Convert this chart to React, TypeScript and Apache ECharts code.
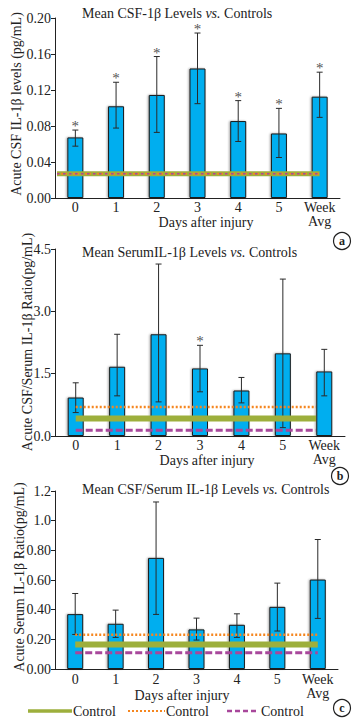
import React, { useEffect, useRef } from 'react';
import * as echarts from 'echarts';

const categories = ['0', '1', '2', '3', '4', '5', 'Week\nAvg'];

// Panel a: Mean CSF IL-1β
const csfMean = [0.0673, 0.1019, 0.1145, 0.1439, 0.0855, 0.0717, 0.1126];
const csfLow = [0.0576, 0.0777, 0.0729, 0.1048, 0.0628, 0.045, 0.0896];
const csfHigh = [0.0755, 0.1286, 0.1572, 0.1833, 0.1082, 0.0996, 0.1398];
const csfStars = [true, true, true, true, true, true, true];

// Panel b: Mean Serum IL-1β
const serumMean = [0.926, 1.667, 2.448, 1.626, 1.095, 1.989, 1.554];
const serumLow = [0.564, 0.966, 0.821, 1.063, 0.797, 0.201, 0.966];
const serumHigh = [1.28, 2.448, 4.138, 2.182, 1.409, 3.776, 2.085];
const serumStars = [false, false, false, true, false, false, false];

// Panel c: CSF/Serum ratio
const ratioMean = [0.37, 0.305, 0.749, 0.267, 0.298, 0.419, 0.603];
const ratioLow = [0.233, 0.213, 0.368, 0.195, 0.213, 0.256, 0.341];
const ratioHigh = [0.509, 0.397, 1.126, 0.343, 0.372, 0.579, 0.873];
const ratioStars = [false, false, false, false, false, false, false];

// Control reference values per panel (a, b, c)
const controlGreen = [0.027, 0.419, 0.166];
const controlOrange = [0.027, 0.7, 0.231];
const controlPurple = [0.027, 0.137, 0.11];

const yTicksA = ['0.00', '0.04', '0.08', '0.12', '0.16', '0.20'];
const yTicksB = ['0.0', '1.5', '3.0', '4.5'];
const yTicksC = ['0.00', '0.20', '0.40', '0.60', '0.80', '1.0', '1.2'];

const titles = [
  'Mean CSF-1β Levels {i|vs.} Controls',
  'Mean SerumIL-1β Levels {i|vs.} Controls',
  'Mean CSF/Serum IL-1β Levels {i|vs.} Controls',
];
const yNames = [
  'Acute CSF IL-1β levels (pg/mL)',
  'Acute CSF/Serum IL-1β Ratio(pg/mL)',
  'Acute Serum IL-1β Ratio(pg/mL)',
];
const xName = 'Days after injury';
const panelLetters = ['a', 'b', 'c'];
const legendLabels = ['Control', 'Control', 'Control'];

const FONT = '"Liberation Serif", "DejaVu Serif", serif';
const INK = '#222';
const BAR = '#00AEEF';
const GREEN = '#9DAF3C';
const ORANGE = '#F5861F';
const PURPLE = '#A8479B';

export default function App() {
  const ref = useRef<HTMLDivElement>(null);

  useEffect(() => {
    if (!ref.current) return;
    const chart = echarts.init(ref.current, undefined, { renderer: 'svg' });

    const grids = [
      { left: 55, top: 18, width: 285, height: 180 },
      { left: 55, top: 249, width: 290, height: 187 },
      { left: 55, top: 491, width: 283, height: 178 },
    ];
    const yCfg = [
      { max: 0.2, interval: 0.04, ticks: yTicksA },
      { max: 4.5, interval: 1.5, ticks: yTicksB },
      { max: 1.2, interval: 0.2, ticks: yTicksC },
    ];
    const labelMargins = [2, 2, 3];
    const means = [csfMean, serumMean, ratioMean];
    const lows = [csfLow, serumLow, ratioLow];
    const highs = [csfHigh, serumHigh, ratioHigh];
    const stars = [csfStars, serumStars, ratioStars];
    const lineStart = [-0.45, 0, 0]; // fraction of band relative to first category centre
    const lineEnd = [0, -0.2, 0];

    const xAxis = grids.map((_, i) => ({
      type: 'category',
      gridIndex: i,
      data: categories,
      boundaryGap: true,
      axisLine: { lineStyle: { color: INK, width: 1 } },
      axisTick: { show: false },
      axisLabel: {
        color: INK,
        fontFamily: FONT,
        fontSize: 14,
        lineHeight: 14,
        margin: labelMargins[i],
        interval: 0,
      },
      splitLine: { show: false },
    }));

    const yAxis = yCfg.map((c, i) => ({
      type: 'value',
      gridIndex: i,
      min: 0,
      max: c.max,
      interval: c.interval,
      axisLine: { show: true, lineStyle: { color: INK, width: 1 } },
      axisTick: { show: true, length: 4, inside: false, lineStyle: { color: INK } },
      axisLabel: {
        color: INK,
        fontFamily: FONT,
        fontSize: 14,
        margin: 4,
        formatter: (v: number) => c.ticks[Math.round(v / c.interval)] ?? '',
      },
      splitLine: { show: false },
    }));

    const series: any[] = [];
    for (let p = 0; p < 3; p++) {
      series.push({
        type: 'bar',
        xAxisIndex: p,
        yAxisIndex: p,
        data: means[p],
        barWidth: 16,
        z: 2,
        itemStyle: {
          color: BAR,
          borderColor: '#1a1a1a',
          borderWidth: 1,
          shadowColor: 'rgba(0,0,0,0.35)',
          shadowBlur: 2,
          shadowOffsetX: -1,
        },
      });
      series.push({
        type: 'custom',
        xAxisIndex: p,
        yAxisIndex: p,
        z: 4,
        data: lows[p].map((l, i) => [i, l, highs[p][i]]),
        renderItem: (params: any, api: any) => {
          const x = api.value(0);
          const hi = api.coord([x, api.value(2)]);
          const lo = api.coord([x, api.value(1)]);
          const cap = 3;
          const st = { stroke: '#2a2a2a', lineWidth: 1 };
          return {
            type: 'group',
            children: [
              { type: 'line', shape: { x1: hi[0], y1: hi[1], x2: lo[0], y2: lo[1] }, style: st },
              { type: 'line', shape: { x1: hi[0] - cap, y1: hi[1], x2: hi[0] + cap, y2: hi[1] }, style: st },
              { type: 'line', shape: { x1: lo[0] - cap, y1: lo[1], x2: lo[0] + cap, y2: lo[1] }, style: st },
            ],
          };
        },
      });
      const starData = highs[p]
        .map((h, i) => (stars[p][i] ? [i, h] : null))
        .filter((d) => d !== null);
      if (starData.length) {
        series.push({
          type: 'custom',
          xAxisIndex: p,
          yAxisIndex: p,
          z: 4,
          data: starData,
          renderItem: (params: any, api: any) => {
            const pt = api.coord([api.value(0), api.value(1)]);
            return {
              type: 'text',
              x: pt[0],
              y: pt[1] - 4,
              style: {
                text: '*',
                fill: '#555',
                fontSize: 15,
                fontFamily: FONT,
                align: 'center',
                verticalAlign: 'middle',
              },
            };
          },
        });
      }
      const pIdx = p;
      series.push({
        type: 'custom',
        xAxisIndex: p,
        yAxisIndex: p,
        z: 6,
        data: [[0, categories.length - 1, controlGreen[p], controlOrange[p], controlPurple[p]]],
        renderItem: (params: any, api: any) => {
          const band = api.size([1, 0])[0];
          const first = api.value(0);
          const last = api.value(1);
          const mk = (v: number) => {
            const a = api.coord([first, v]);
            const b = api.coord([last, v]);
            return {
              x1: a[0] + lineStart[pIdx] * band,
              y1: a[1],
              x2: b[0] + lineEnd[pIdx] * band,
              y2: b[1],
            };
          };
          const isA = pIdx === 0;
          return {
            type: 'group',
            children: [
              { type: 'line', shape: mk(api.value(2)), style: { stroke: GREEN, lineWidth: isA ? 5 : 6 } },
              {
                type: 'line',
                shape: mk(api.value(3)),
                style: { stroke: ORANGE, lineWidth: isA ? 2 : 2.5, lineDash: [2, 2] },
              },
              {
                type: 'line',
                shape: mk(api.value(4)),
                style: { stroke: PURPLE, lineWidth: isA ? 1.6 : 3, lineDash: isA ? [2.5, 3.5] : [7, 3] },
              },
            ],
          };
        },
      });
    }

    const titleYs = [13, 252, 489];
    const yNamePos = [
      [16, 104],
      [27, 342],
      [19, 577],
    ];
    const xNamePos = [
      [206, 222],
      [207, 460],
      [182, 695],
    ];
    const circlePos = [
      [342, 241],
      [340, 476],
      [342, 708],
    ];
    const graphic: any[] = [];
    for (let p = 0; p < 3; p++) {
      graphic.push({
        type: 'text',
        x: 82,
        y: titleYs[p],
        style: {
          text: titles[p],
          fill: INK,
          fontFamily: FONT,
          fontSize: 14,
          align: 'left',
          verticalAlign: 'middle',
          rich: { i: { fontStyle: 'italic', fontFamily: FONT, fontSize: 14, fill: INK } },
        },
      });
      graphic.push({
        type: 'text',
        x: yNamePos[p][0],
        y: yNamePos[p][1],
        rotation: Math.PI / 2,
        style: {
          text: yNames[p],
          fill: INK,
          fontFamily: FONT,
          fontSize: 14,
          align: 'center',
          verticalAlign: 'middle',
        },
      });
      graphic.push({
        type: 'text',
        x: xNamePos[p][0],
        y: xNamePos[p][1],
        style: {
          text: xName,
          fill: INK,
          fontFamily: FONT,
          fontSize: 14,
          align: 'center',
          verticalAlign: 'middle',
        },
      });
      graphic.push({
        type: 'circle',
        shape: { cx: circlePos[p][0], cy: circlePos[p][1], r: 8.5 },
        style: { fill: '#fff', stroke: INK, lineWidth: 1.2 },
      });
      graphic.push({
        type: 'text',
        x: circlePos[p][0],
        y: circlePos[p][1],
        style: {
          text: panelLetters[p],
          fill: INK,
          fontFamily: FONT,
          fontSize: 12,
          fontWeight: 'bold',
          align: 'center',
          verticalAlign: 'middle',
        },
      });
    }
    const legY = 711;
    const legItems = [
      { x1: 28, x2: 72, color: GREEN, width: 3.5, dash: undefined as any, tx: 73 },
      { x1: 128, x2: 165, color: ORANGE, width: 2, dash: [2, 2], tx: 166 },
      { x1: 227, x2: 258, color: PURPLE, width: 2.5, dash: [5, 3], tx: 261 },
    ];
    legItems.forEach((it, i) => {
      graphic.push({
        type: 'line',
        shape: { x1: it.x1, y1: legY, x2: it.x2, y2: legY },
        style: { stroke: it.color, lineWidth: it.width, lineDash: it.dash },
      });
      graphic.push({
        type: 'text',
        x: it.tx,
        y: legY,
        style: {
          text: legendLabels[i],
          fill: INK,
          fontFamily: FONT,
          fontSize: 14,
          align: 'left',
          verticalAlign: 'middle',
        },
      });
    });

    chart.setOption({
      animation: false,
      backgroundColor: '#fff',
      grid: grids,
      xAxis,
      yAxis,
      series,
      graphic,
    });

    return () => chart.dispose();
  }, []);

  return (
    <div
      ref={ref}
      style={{ position: 'fixed', left: 0, top: 0, width: 362, height: 723, background: '#fff' }}
    />
  );
}
